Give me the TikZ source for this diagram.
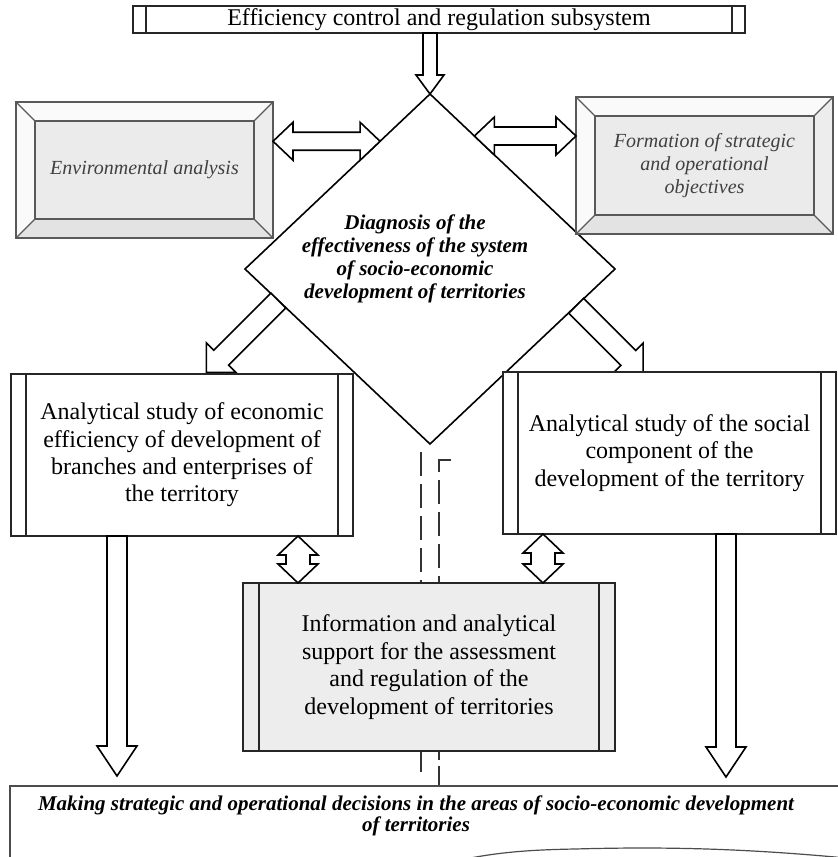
\documentclass[tikz,border=0pt]{standalone}
\usepackage{fontspec}
\setmainfont{Liberation Serif}
\usetikzlibrary{calc,shapes.geometric}

% hollow block arrows: tail, tip, shaft half width, head half width, head length
\newcommand{\blockarrow}[5]{%
  \coordinate (bh) at ($(#2)!#5!(#1)$);
  \filldraw[hollow] ($(#1)!#3!90:(#2)$) -- ($(bh)!#3!-90:(#1)$) -- ($(bh)!#4!-90:(#1)$) -- (#2)
    -- ($(bh)!#4!90:(#1)$) -- ($(bh)!#3!90:(#1)$) -- ($(#1)!#3!-90:(#2)$) -- cycle;}
\newcommand{\dblarrow}[5]{%
  \coordinate (da) at ($(#1)!#5!(#2)$);
  \coordinate (db) at ($(#2)!#5!(#1)$);
  \filldraw[hollow] (#1) -- ($(da)!#4!90:(#2)$) -- ($(da)!#3!90:(#2)$) -- ($(db)!#3!-90:(#1)$)
    -- ($(db)!#4!-90:(#1)$) -- (#2) -- ($(db)!#4!90:(#1)$) -- ($(db)!#3!90:(#1)$)
    -- ($(da)!#3!-90:(#2)$) -- ($(da)!#4!-90:(#2)$) -- cycle;}

\begin{document}
\begin{tikzpicture}[x=0.5pt,y=-0.5pt,
  every node/.style={outer sep=0pt,inner sep=0pt},
  hollow/.style={draw=black,fill=white,line width=0.8pt,line join=miter},
  boxtext/.style={font=\fontsize{12}{13.7}\selectfont,align=center},
  barbox/.style={draw=black!85,line width=0.8pt,fill=white,boxtext,
    path picture={\draw[line width=0.8pt]
      ([xshift=#1]path picture bounding box.north west) -- ([xshift=#1]path picture bounding box.south west)
      ([xshift=-#1]path picture bounding box.north east) -- ([xshift=-#1]path picture bounding box.south east);}},
  barbox/.default=7.5pt,
  bevelbox/.style={draw=black!65,line width=0.6pt,fill=black!2,minimum width=128.5pt,minimum height=68pt,
    font=\fontsize{10}{11.3}\selectfont\itshape,text=black!75,align=center,
    path picture={\def\pb{path picture bounding box}
      \fill[black!11] (\pb.south west) -- (\pb.south east) -- ([shift={(-9.5pt,9.5pt)}]\pb.south east) -- ([shift={(9.5pt,9.5pt)}]\pb.south west) -- cycle;
      \fill[black!7] (\pb.north east) -- (\pb.south east) -- ([shift={(-9.5pt,9.5pt)}]\pb.south east) -- ([shift={(-9.5pt,-9.5pt)}]\pb.north east) -- cycle;
      \filldraw[black!8,draw=black!65,line width=0.6pt] ([shift={(9.5pt,-9.5pt)}]\pb.north west) rectangle ([shift={(-9.5pt,9.5pt)}]\pb.south east);
      \draw[black!65,line width=0.6pt] (\pb.north west) -- ([shift={(9.5pt,-9.5pt)}]\pb.north west)
        (\pb.north east) -- ([shift={(-9.5pt,-9.5pt)}]\pb.north east)
        (\pb.south west) -- ([shift={(9.5pt,9.5pt)}]\pb.south west)
        (\pb.south east) -- ([shift={(-9.5pt,9.5pt)}]\pb.south east);}},
  dashline/.style={draw=black!80,line width=1.3pt,dash pattern=on 12pt off 4pt}
]
\clip (0,0) rectangle (838,857);
%----------------top part----------
\node[barbox=6.5pt,minimum width=306pt,minimum height=13.5pt] (ctrl) at (439,19.5) {Efficiency control and regulation subsystem};
\node[draw,diamond,fill=white,line width=0.8pt,minimum width=185pt,minimum height=175pt] (diag) at (430,269) {};
\node[font=\fontsize{10.5}{11.4}\selectfont\bfseries\itshape,align=center] (diagtxt) at (415,259)
  {Diagnosis of the\\effectiveness of the system\\of socio-economic\\development of territories};
\node[bevelbox] (env) at (144.5,170) {Environmental analysis};
\node[bevelbox,minimum height=68.5pt] (form) at (704.5,165.5) {Formation of strategic\\and operational\\objectives};
\coordinate (dl) at ($(diag.north)!0.27!(diag.west)$);
\coordinate (dr) at ($(diag.north)!0.24!(diag.east)$);
\dblarrow{env.east |- dl}{dl}{4.5pt}{9.5pt}{10pt}
\dblarrow{dr}{form.west |- dr}{4.5pt}{9.5pt}{10pt}
\blockarrow{ctrl.south -| diag.north}{diag.north}{3.5pt}{7pt}{9.5pt}
%----------------middle part----------
\coordinate (sl) at ($(diag.west)!0.18!(diag.south)$);
\coordinate (slt) at ($(sl)+(-72,72)$);
\coordinate (sr) at ($(diag.east)!0.21!(diag.south)$);
\coordinate (srt) at ($(sr)+(67,67)$);
\blockarrow{sl}{slt}{5.25pt}{10.5pt}{10.5pt}
\blockarrow{sr}{srt}{5.25pt}{10.5pt}{10.5pt}
\draw[dashline] (421,452) -- (421,590);
\draw[dashline] (451,460) -- (439,460) -- (439,590);
\draw[dashline,dash pattern=on 10pt off 3pt] (421,752) -- (421,773);
\draw[dashline,dash pattern=on 4pt off 3pt on 12pt off 3pt] (439,752) -- (439,786) -- (427,786);
\node[barbox,minimum width=171pt,minimum height=81pt] (econ) at (182,455)
  {Analytical study of economic\\efficiency of development of\\branches and enterprises of\\the territory};
\node[barbox,minimum width=166.5pt,minimum height=81pt] (social) at (669.5,453)
  {Analytical study of the social\\component of the\\development of the territory};
\node[barbox=8pt,fill=black!7,minimum width=186pt,minimum height=84pt] (info) at (429,667)
  {Information and analytical\\support for the assessment\\and regulation of the\\development of territories};
\coordinate (vl) at ([xshift=58pt]econ.south);
\coordinate (vr) at ([xshift=-63.25pt]social.south);
\dblarrow{vl}{info.north -| vl}{6pt}{10pt}{9.5pt}
\dblarrow{vr}{info.north -| vr}{6pt}{10pt}{9.5pt}
%----------------bottom part----------
\coordinate (dnl) at ([xshift=-32.5pt]econ.south);
\coordinate (dnlt) at (117,776);
\coordinate (dnr) at ([xshift=28.25pt]social.south);
\coordinate (dnrt) at (726,777);
\blockarrow{dnl}{dnlt}{5pt}{10pt}{15pt}
\blockarrow{dnr}{dnrt}{5pt}{10pt}{15pt}
\draw[black!70,line width=0.6pt] (846,786) -- (10,786) -- (10,870);
\draw[black!70,line width=0.6pt] (420,870) .. controls (480,853) and (520,850) .. (575,849) .. controls (680,846) and (760,850) .. (846,858);
\node[font=\fontsize{10.5}{10.5}\selectfont\bfseries\itshape,align=center] (decide) at (416,816)
  {Making strategic and operational decisions in the areas of socio-economic development\\of territories};
\end{tikzpicture}
\end{document}
